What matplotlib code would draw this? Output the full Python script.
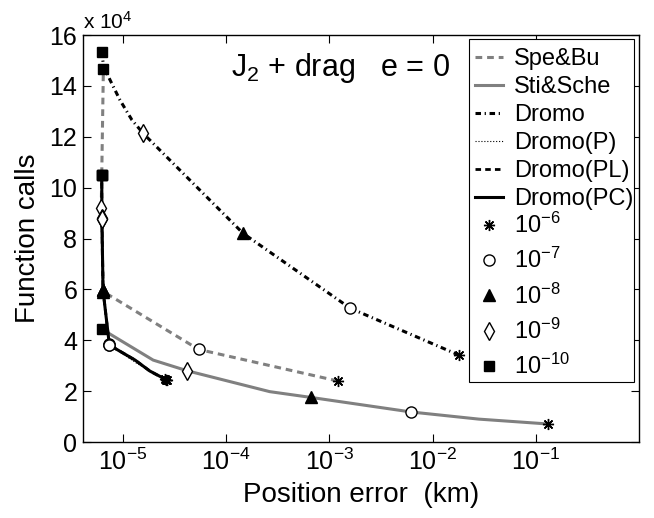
import matplotlib
matplotlib.use('Agg')
import matplotlib.pyplot as plt
from matplotlib.lines import Line2D
from matplotlib.patches import Rectangle
from matplotlib.ticker import FuncFormatter, MultipleLocator, NullLocator

plt.rcParams['font.family'] = ['Liberation Sans', 'DejaVu Sans']
plt.rcParams['mathtext.fontset'] = 'custom'
plt.rcParams['mathtext.rm'] = 'Liberation Sans'
plt.rcParams['mathtext.it'] = 'Liberation Sans:italic'
plt.rcParams['mathtext.default'] = 'regular'

# tolerance markers (index 0..4 -> 1e-6 .. 1e-10), -1 = point without marker
tol_labels = ['$10^{-6}$', '$10^{-7}$', '$10^{-8}$', '$10^{-9}$', '$10^{-10}$']
tol_markers = [(8, 2, 0), 'o', '^', 'd', 's']
tol_faces = ['k', 'w', 'k', 'w', 'k']
tol_sizes = [8, 8, 9, 9, 7]

# position error (km) vs function calls
spebu_err = [1.2e-3, 5.4e-5, 6.45e-6, 6.15e-6, 6.45e-6]
spebu_calls = [24000, 36400, 59100, 91900, 146500]
spebu_tol = [0, 1, 2, 3, 4]

stische_err = [0.13, 2.8e-2, 6.2e-3, 6.7e-4, 2.64e-4, 4.19e-5, 1.96e-5, 6.22e-6]
stische_calls = [7100, 9000, 11800, 17500, 19800, 28000, 32200, 44400]
stische_tol = [0, -1, 1, 2, -1, 3, -1, 4]

dromo_err = [1.79e-2, 1.59e-3, 1.46e-4, 1.57e-5, 1.22e-5, 9.35e-6, 7.49e-6, 6.48e-6, 6.22e-6]
dromo_calls = [34200, 52600, 82000, 121300, 126600, 134400, 142300, 147800, 153200]
dromo_tol = [0, 1, 2, 3, -1, -1, -1, -1, 4]

dromop_err = [2.55e-5, 1.35e-5, 7.3e-6, 6.4e-6, 6.25e-6, 6.22e-6]
dromop_calls = [24700, 31000, 38400, 59700, 88000, 105000]
dromop_tol = [0, -1, 1, 2, 3, 4]

dromopl_err = [2.62e-5, 1.82e-5, 1.31e-5, 7.38e-6, 6.4e-6, 6.25e-6, 6.22e-6]
dromopl_calls = [24400, 27900, 32200, 38100, 59700, 87700, 105000]
dromopl_tol = [0, -1, -1, 1, 2, 3, 4]

dromopc_err = [2.65e-5, 1.82e-5, 1.31e-5, 7.38e-6, 6.4e-6, 6.25e-6, 6.22e-6]
dromopc_calls = [24400, 27900, 32200, 38100, 59700, 87700, 105000]
dromopc_tol = [0, -1, -1, 1, 2, 3, 4]

methods = ['Spe&Bu', 'Sti&Sche', 'Dromo', 'Dromo(P)', 'Dromo(PL)', 'Dromo(PC)']
styles = [
    dict(color='0.5', lw=2.2, ls=(0, (2.2, 1.6))),
    dict(color='0.5', lw=2.2, ls='-'),
    dict(color='k', lw=2.2, ls=(0, (1.8, 1.2, 0.4, 1.2))),
    dict(color='k', lw=0.8, ls=':'),
    dict(color='k', lw=2.0, ls=(0, (2.0, 1.5))),
    dict(color='k', lw=2.2, ls='-'),
]
series = [
    (spebu_err, spebu_calls, spebu_tol),
    (stische_err, stische_calls, stische_tol),
    (dromo_err, dromo_calls, dromo_tol),
    (dromop_err, dromop_calls, dromop_tol),
    (dromopl_err, dromopl_calls, dromopl_tol),
    (dromopc_err, dromopc_calls, dromopc_tol),
]

fig = plt.figure(figsize=(6.54, 5.18), dpi=100)
ax = fig.add_axes([0.1265, 0.1467, 0.8506, 0.7857])

line_handles = []
for name, st, (err, calls, tol) in zip(methods, styles, series):
    ax.plot(err, calls, zorder=2, **st)
    line_handles.append(Line2D([], [], label=name, **st))

for err, calls, tol in series:
    for k in range(5):
        xs = [e for e, t in zip(err, tol) if t == k]
        ys = [c for c, t in zip(calls, tol) if t == k]
        ax.plot(xs, ys, ls='none', marker=tol_markers[k], ms=tol_sizes[k],
                mfc=tol_faces[k], mec='k', mew=1.0, zorder=3)

tol_handles = []
for k in range(5):
    tol_handles.append(Line2D([], [], ls='none', marker=tol_markers[k], ms=tol_sizes[k],
                              mfc=tol_faces[k], mec='k', mew=1.0, label=tol_labels[k]))

ax.set_xscale('log')
ax.set_xlim(4.07e-6, 1.0)
ax.set_ylim(0, 160000)
ax.xaxis.set_minor_locator(NullLocator())
ax.set_xticks([1e-5, 1e-4, 1e-3, 1e-2, 1e-1])
ax.yaxis.set_major_locator(MultipleLocator(20000))
ax.yaxis.set_major_formatter(FuncFormatter(lambda v, p: f'{v / 1e4:g}'))
ax.tick_params(direction='in', length=6, width=0.8, top=True, right=True, labelsize=18)
ax.tick_params(axis='x', pad=5)
ax.tick_params(axis='y', pad=4)
for sp in ax.spines.values():
    sp.set_linewidth(1.0)

ax.text(0.0, 1.005, r'x 10$^4$', transform=ax.transAxes, ha='left', va='bottom', fontsize=15)
ax.text(0.66, 0.90, r'$J_2$ + drag   e = 0', transform=ax.transAxes,
        ha='right', va='baseline', fontsize=22)

ax.set_xlabel('Position error  (km)', fontsize=20, labelpad=5)
ax.set_ylabel('Function calls', fontsize=20, labelpad=6)

# legend frame shared by the two legend blocks
ax.add_patch(Rectangle((0.6951, 0.1474), 0.2966, 0.842, transform=ax.transAxes,
                       facecolor='w', edgecolor='k', lw=0.8, zorder=4))
leg_kw = dict(loc='upper left', borderaxespad=0, borderpad=0, fontsize=17,
              handlelength=1.2, handletextpad=0.45, frameon=False)
leg1 = ax.legend(handles=line_handles, bbox_to_anchor=(0.7052, 0.967),
                 labelspacing=0.25, **leg_kw)
leg1.set_zorder(5)
ax.add_artist(leg1)
leg2 = ax.legend(handles=tol_handles, bbox_to_anchor=(0.7052, 0.5634),
                 labelspacing=0.43, **leg_kw)
leg2.set_zorder(5)

fig.savefig('out.png', dpi=100)
